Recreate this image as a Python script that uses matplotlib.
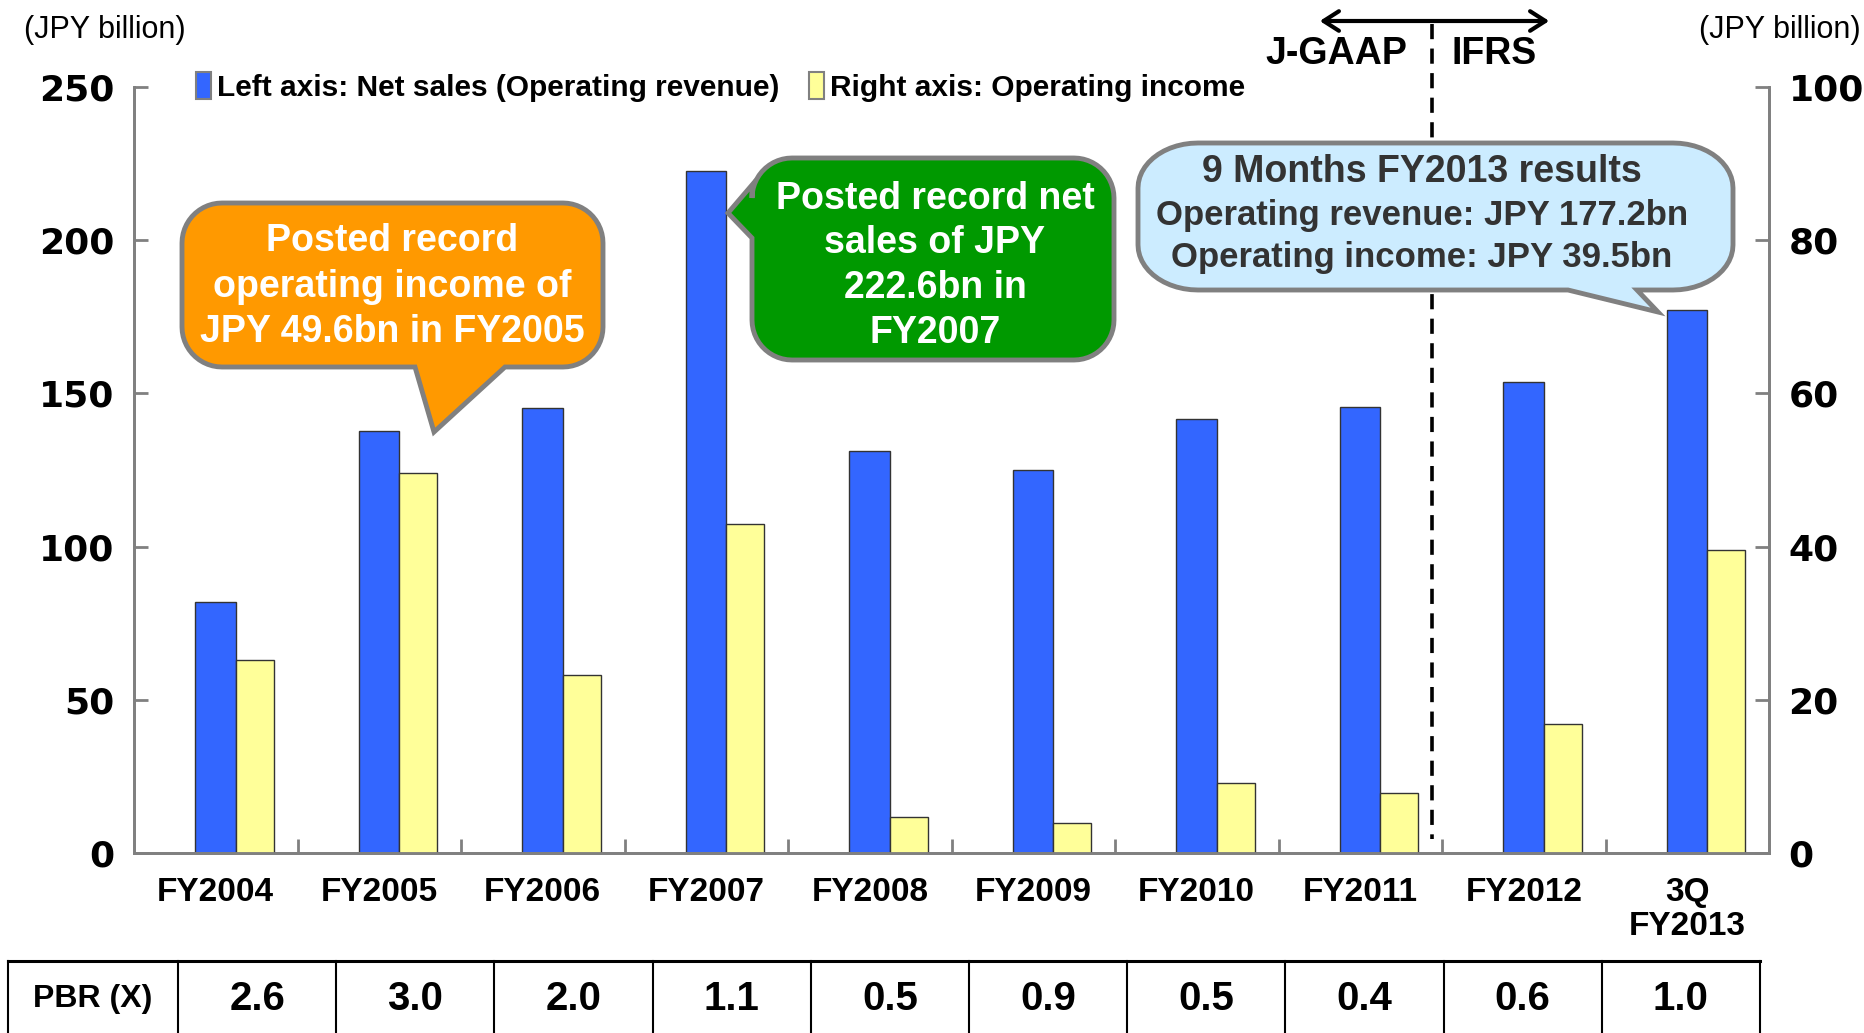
import matplotlib
matplotlib.use("Agg")
import matplotlib.pyplot as plt
import numpy as np
from matplotlib.patches import Polygon, Patch, FancyArrowPatch
from matplotlib.lines import Line2D
from matplotlib.transforms import blended_transform_factory

plt.rcParams['font.family'] = ['Liberation Sans', 'DejaVu Sans']

# ---- data ----
years = ['FY2004', 'FY2005', 'FY2006', 'FY2007', 'FY2008', 'FY2009',
         'FY2010', 'FY2011', 'FY2012', '3Q\nFY2013']
net_sales = [82.0, 137.8, 145.2, 222.6, 131.2, 125.0, 141.7, 145.6, 153.7, 177.2]
op_income = [25.2, 49.6, 23.3, 43.0, 4.7, 3.9, 9.2, 7.8, 16.8, 39.5]
pbr = ['2.6', '3.0', '2.0', '1.1', '0.5', '0.9', '0.5', '0.4', '0.6', '1.0']

BLUE = '#3366FF'
YELLOW = '#FFFF99'
GRAY = '#808080'

W, H = 1865, 1033
fig = plt.figure(figsize=(W / 100, H / 100), dpi=100)


def fp(x, y):
    # pixel position (y from the top) -> figure fraction
    return x / W, 1 - y / H


ax = fig.add_axes([134 / W, 1 - 853 / H, (1769 - 134) / W, (853 - 87) / H])
ax2 = ax.twinx()

x = np.arange(len(years))
ax.bar(x - 0.125, net_sales, width=0.248, align='edge', color=BLUE,
       edgecolor='#333333', linewidth=1)
ax2.bar(x + 0.123, op_income, width=0.232, align='edge', color=YELLOW,
        edgecolor='#333333', linewidth=1)

ax.set_xlim(-0.5, 9.5)
ax.set_ylim(0, 250)
ax2.set_ylim(0, 100)
ax.set_yticks(np.arange(0, 251, 50))
ax2.set_yticks(np.arange(0, 101, 20))

for a in (ax, ax2):
    a.spines['top'].set_visible(False)
    for s in ('left', 'right', 'bottom'):
        a.spines[s].set_color(GRAY)
        a.spines[s].set_linewidth(2)

ytick_font = matplotlib.font_manager.FontProperties(family='DejaVu Sans',
                                                    weight='bold', size=26)
ax.tick_params(axis='y', direction='in', length=10, width=2, color=GRAY, pad=14)
ax2.tick_params(axis='y', direction='in', length=10, width=2, color=GRAY, pad=14)
for lab in ax.get_yticklabels() + ax2.get_yticklabels():
    lab.set_fontproperties(ytick_font)

# category boundaries get the tick marks, centres get the labels
ax.set_xticks(np.arange(0.5, 9, 1))
ax.set_xticklabels([])
ax.set_xticks(x, minor=True)
ax.set_xticklabels(years, minor=True, fontsize=24, fontweight='bold',
                   linespacing=1.15)
ax.tick_params(axis='x', which='major', direction='in', length=10, width=2, color=GRAY)
ax.tick_params(axis='x', which='minor', length=0, pad=17)

# legend
handles = [Patch(facecolor=BLUE, edgecolor=GRAY, linewidth=1.5),
           Patch(facecolor=YELLOW, edgecolor=GRAY, linewidth=1.5)]
labels = ['Left axis: Net sales (Operating revenue)', 'Right axis: Operating income']
ax2.legend(handles, labels, loc='center left', bbox_to_anchor=fp(196, 87),
           bbox_transform=fig.transFigure, ncol=2, frameon=False,
           prop=dict(weight='bold', size=21.5), handlelength=0.5, handleheight=1.0,
           handletextpad=0.2, columnspacing=1.0, borderpad=0, borderaxespad=0)

# accounting standard change marker
blend = blended_transform_factory(ax.transData, fig.transFigure)
ax.plot([7.44, 7.44], [1 - 24 / H, 1 - 839 / H], transform=blend, clip_on=False,
        color='black', lw=2.6, dashes=(4.2, 2.6))
fig.add_artist(FancyArrowPatch(fp(1317, 21), fp(1552, 21), transform=fig.transFigure,
                               arrowstyle='<->,head_length=0.5,head_width=0.32',
                               mutation_scale=22, lw=3, color='black'))
fig.text(*fp(1336, 54), 'J-GAAP', ha='center', va='center', fontsize=27, fontweight='bold')
fig.text(*fp(1494, 54), 'IFRS', ha='center', va='center', fontsize=27, fontweight='bold')

fig.text(*fp(24, 30), '(JPY billion)', ha='left', va='center', fontsize=22)
fig.text(*fp(1861, 30), '(JPY billion)', ha='right', va='center', fontsize=22)


def bubble(x0, y0, x1, y1, rx, ry, side, base, tip, fc):
    """Rounded box with a pointer; coordinates in pixels from the top-left."""
    def arc(cx, cy, a0, a1):
        t = np.radians(np.linspace(a0, a1, 14))
        return list(zip(cx + rx * np.cos(t), cy + ry * np.sin(t)))

    pts = [(x0 + rx, y0), (x1 - rx, y0)]
    pts += arc(x1 - rx, y0 + ry, -90, 0)
    pts += [(x1, y1 - ry)]
    pts += arc(x1 - rx, y1 - ry, 0, 90)
    if side == 'bottom':
        pts += [(max(base), y1), tip, (min(base), y1)]
    pts += [(x0 + rx, y1)]
    pts += arc(x0 + rx, y1 - ry, 90, 180)
    if side == 'left':
        pts += [(x0, max(base)), tip, (x0, min(base))]
    pts += [(x0, y0 + ry)]
    pts += arc(x0 + rx, y0 + ry, 180, 270)
    verts = [fp(px, py) for px, py in pts]
    fig.add_artist(Polygon(verts, closed=True, transform=fig.transFigure,
                           facecolor=fc, edgecolor=GRAY, linewidth=3.5, zorder=5))


bubble(182, 203, 603, 367, 40, 40, 'bottom', (415, 505), (434, 432), '#FF9900')
for ty, s in zip([241, 287, 332], ['Posted record', 'operating income of',
                                   'JPY 49.6bn in FY2005']):
    fig.text(*fp(392, ty), s, ha='center', va='center', fontsize=27,
             fontweight='bold', color='white', zorder=6)

bubble(752, 158, 1114, 360, 40, 40, 'left', (185, 238), (728, 213), '#009900')
for ty, s in zip([199, 243, 288, 333], ['Posted record net', 'sales of JPY',
                                        '222.6bn in', 'FY2007']):
    fig.text(*fp(935, ty), s, ha='center', va='center', fontsize=27,
             fontweight='bold', color='white', zorder=6)

bubble(1138, 143, 1733, 290, 60, 45, 'bottom', (1568, 1637), (1658, 312), '#CCECFF')
fig.text(*fp(1422, 172), '9 Months FY2013 results', ha='center', va='center',
         fontsize=27, fontweight='bold', color='#333333', zorder=6)
fig.text(*fp(1422, 216), 'Operating revenue: JPY 177.2bn', ha='center', va='center',
         fontsize=25, fontweight='bold', color='#333333', zorder=6)
fig.text(*fp(1422, 257), 'Operating income: JPY 39.5bn', ha='center', va='center',
         fontsize=25, fontweight='bold', color='#333333', zorder=6)

# PBR table under the chart
col0, col1, cw = 8, 178, 158.2
edges = [col0] + [col1 + cw * k for k in range(len(pbr) + 1)]
fig.add_artist(Line2D([edges[0] / W, edges[-1] / W], [1 - 961 / H] * 2,
                      transform=fig.transFigure, color='black', lw=2.2))
for ex in edges:
    fig.add_artist(Line2D([ex / W] * 2, [1 - 961 / H, 0], transform=fig.transFigure,
                          color='black', lw=1.5))
fig.text(*fp((col0 + col1) / 2, 999), 'PBR (X)', ha='center', va='center',
         fontsize=23, fontweight='bold')
for k, v in enumerate(pbr):
    fig.text(*fp(col1 + cw * (k + 0.5), 999), v, ha='center', va='center',
             fontsize=29, fontweight='bold')

fig.savefig('out.png', dpi=100)
